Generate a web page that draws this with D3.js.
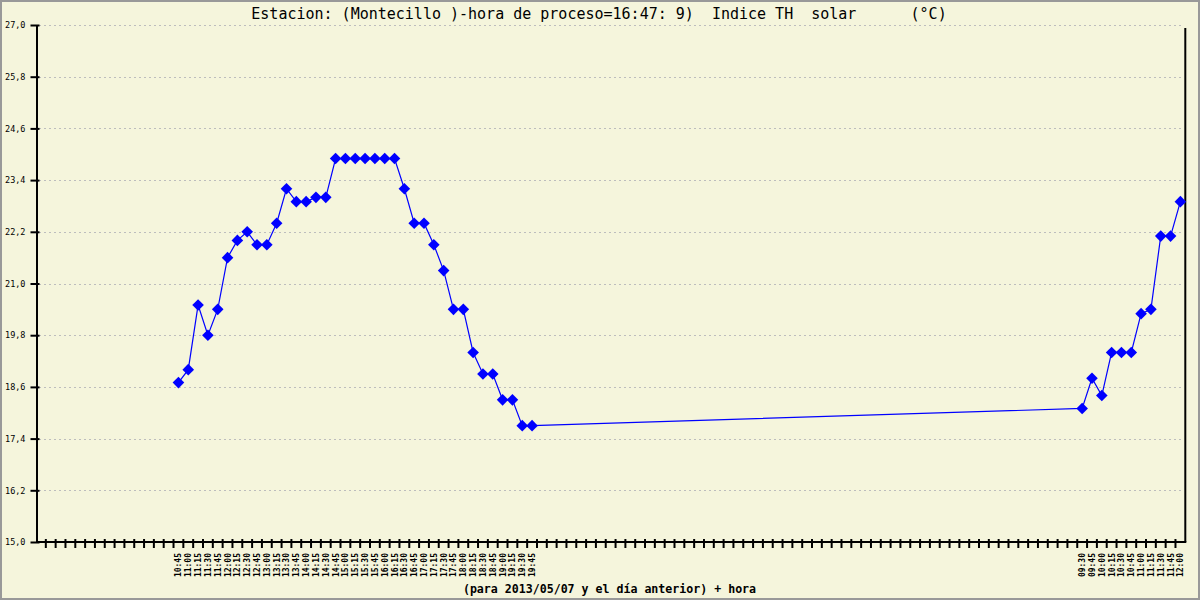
<!DOCTYPE html>
<html>
<head>
<meta charset="utf-8">
<script src="https://cdn.jsdelivr.net/npm/d3@7"></script>
<style>
  html, body { margin: 0; padding: 0; background: #f5f5dc; }
  svg { display: block; }
</style>
</head>
<body>
<svg id="chart" width="1200" height="600"></svg>
<script>
// ---- data ----
const titleText = "Estacion: (Montecillo )-hora de proceso=16:47: 9)  Indice TH  solar      (°C)";
const xAxisTitle = "(para 2013/05/07 y el día anterior) + hora";

const timesDay1 = ["10:45","11:00","11:15","11:30","11:45","12:00","12:15","12:30","12:45","13:00",
  "13:15","13:30","13:45","14:00","14:15","14:30","14:45","15:00","15:15","15:30",
  "15:45","16:00","16:15","16:30","16:45","17:00","17:15","17:30","17:45","18:00",
  "18:15","18:30","18:45","19:00","19:15","19:30","19:45"];
const valuesDay1 = [18.7,19.0,20.5,19.8,20.4,21.6,22.0,22.2,21.9,21.9,
  22.4,23.2,22.9,22.9,23.0,23.0,23.9,23.9,23.9,23.9,
  23.9,23.9,23.9,23.2,22.4,22.4,21.9,21.3,20.4,20.4,
  19.4,18.9,18.9,18.3,18.3,17.7,17.7];

const timesDay2 = ["09:30","09:45","10:00","10:15","10:30","10:45","11:00","11:15","11:30","11:45","12:00"];
const valuesDay2 = [18.1,18.8,18.4,19.4,19.4,19.4,20.3,20.4,22.1,22.1,22.9];

const emptySlotsBefore = 14;   // unlabeled time slots before the first reading
const emptySlotsBetween = 55;  // unlabeled time slots between the two days

const yTickValues = [15.0,16.2,17.4,18.6,19.8,21.0,22.2,23.4,24.6,25.8,27.0];

// ---- build category slots ----
const slots = [];
for (let i = 0; i < emptySlotsBefore; i++) slots.push({key: "a" + i, label: ""});
timesDay1.forEach((t, i) => slots.push({key: "d1-" + t, label: t, value: valuesDay1[i]}));
for (let i = 0; i < emptySlotsBetween; i++) slots.push({key: "b" + i, label: ""});
timesDay2.forEach((t, i) => slots.push({key: "d2-" + t, label: t, value: valuesDay2[i]}));
const points = slots.filter(d => d.value !== undefined);

// ---- layout ----
const svg = d3.select("#chart");
const pLeft = 36, pRight = 1185.3, pTop = 25, pBottom = 542;

svg.append("rect").attr("x", 0).attr("y", 0).attr("width", 1200).attr("height", 600)
  .attr("fill", "#f5f5dc");

const x = d3.scaleBand().domain(slots.map(d => d.key)).range([pLeft, pRight]).paddingInner(0).paddingOuter(0);
const y = d3.scaleLinear().domain([15, 27]).range([pBottom, pTop]);
const bw = x.bandwidth();
const cx = d => x(d.key) + bw / 2;

// gridlines
svg.append("g").selectAll("line").data(yTickValues.filter(v => v > 15)).join("line")
  .attr("x1", pLeft + 3).attr("x2", pRight - 2)
  .attr("y1", d => Math.round(y(d)) + 0.5).attr("y2", d => Math.round(y(d)) + 0.5)
  .attr("stroke", "#bdbdbd").attr("stroke-width", 1).attr("stroke-dasharray", "2,3");

// y axis
const yAxis = d3.axisLeft(y).tickValues(yTickValues)
  .tickFormat(d => d3.format(".1f")(d).replace(".", ","))
  .tickSize(6).tickSizeOuter(0).tickPadding(5);
const gy = svg.append("g").attr("transform", `translate(${pLeft + 0.5},0)`).call(yAxis);
gy.select(".domain").attr("stroke", "#000").attr("stroke-width", 2);
gy.selectAll(".tick line").attr("stroke", "#000").attr("stroke-width", 2).attr("x2", -6).attr("x1", 3);
gy.selectAll(".tick text").attr("font-family", "DejaVu Sans Mono").attr("font-size", "8.5px").attr("fill", "#000");

// right frame line
svg.append("line").attr("x1", pRight).attr("x2", pRight).attr("y1", pTop + 3).attr("y2", pBottom)
  .attr("stroke", "#000").attr("stroke-width", 2);

// x axis line
svg.append("line").attr("x1", pLeft).attr("x2", pRight + 1).attr("y1", pBottom).attr("y2", pBottom)
  .attr("stroke", "#000").attr("stroke-width", 2);

// x ticks at slot boundaries
const boundaries = slots.map(d => x(d.key)).concat([pRight]).slice(1, -1);
svg.append("g").selectAll("line").data(boundaries).join("line")
  .attr("x1", d => d).attr("x2", d => d).attr("y1", pBottom - 3).attr("y2", pBottom + 6)
  .attr("stroke", "#000").attr("stroke-width", 2);

// x tick labels
svg.append("g").selectAll("text").data(slots.filter(d => d.label)).join("text")
  .attr("transform", d => `translate(${cx(d) + 3},553) rotate(-90)`)
  .attr("text-anchor", "end")
  .attr("font-family", "DejaVu Sans Mono").attr("font-size", "8px").attr("font-weight", "bold")
  .attr("fill", "#000")
  .text(d => d.label);

// series line
svg.append("path").datum(points)
  .attr("d", d3.line().x(cx).y(d => y(d.value)))
  .attr("fill", "none").attr("stroke", "#0000ff").attr("stroke-width", 1.2);

// diamond markers
svg.append("g").selectAll("path").data(points).join("path")
  .attr("transform", d => `translate(${cx(d)},${y(d.value)})`)
  .attr("d", "M0,-5.8L5.8,0L0,5.8L-5.8,0Z")
  .attr("fill", "#0000ff");

// title
svg.append("text").attr("x", 599).attr("y", 18.5).attr("text-anchor", "middle")
  .attr("font-family", "DejaVu Sans Mono").attr("font-size", "15px").attr("fill", "#000")
  .style("white-space", "pre")
  .text(titleText);

// x axis title
svg.append("text").attr("x", 609.5).attr("y", 592.5).attr("text-anchor", "middle")
  .attr("font-family", "DejaVu Sans Mono").attr("font-size", "11.6px").attr("font-weight", "bold")
  .attr("fill", "#000").style("white-space", "pre")
  .text(xAxisTitle);

// outer frame
svg.append("rect").attr("x", 1).attr("y", 1).attr("width", 1198).attr("height", 598)
  .attr("fill", "none").attr("stroke", "#999").attr("stroke-width", 2);
</script>
</body>
</html>
